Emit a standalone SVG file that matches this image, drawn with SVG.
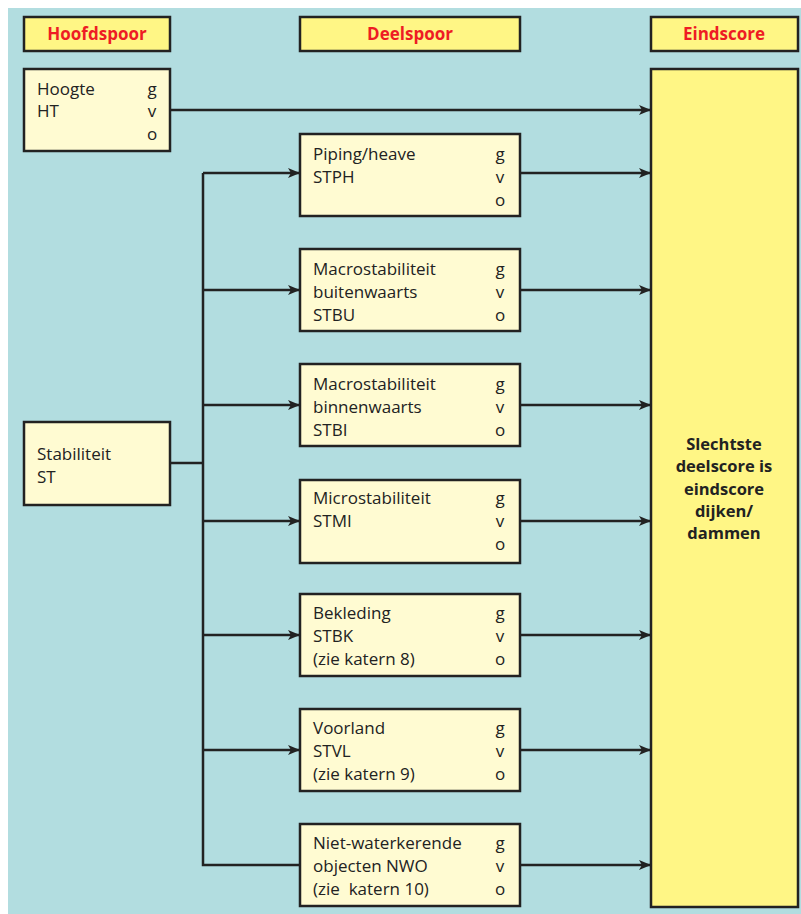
<svg xmlns="http://www.w3.org/2000/svg" width="801" height="914" viewBox="0 0 801 914">
<style>
.hdr{fill:#fff685;stroke:#222;stroke-width:2.5}
.box{fill:#fffbd2;stroke:#222;stroke-width:2.5}
.end{fill:#fff685;stroke:#222;stroke-width:2.5}
.ht{font-family:"Open Sans","Noto Sans",sans-serif;font-size:17px;font-weight:bold;fill:#ee1c24;text-anchor:middle}
.t{font-family:"Open Sans","Noto Sans",sans-serif;font-size:17px;fill:#222}
.c{text-anchor:middle}
.b{font-weight:bold;text-anchor:middle;font-size:16.5px}
.ln{stroke:#222;stroke-width:2.5;fill:none}
</style>
<defs>
<marker id="ah" markerWidth="12" markerHeight="10" refX="12" refY="5" orient="auto" markerUnits="userSpaceOnUse">
<path d="M0,0 L12,5 L0,10 L3,5 Z" fill="#222"/>
</marker>
</defs>
<rect x="8" y="8" width="793" height="906" fill="#b2dde0"/>
<g id="h1"><rect class="hdr" x="24" y="17" width="146" height="34"/><text class="ht" x="97" y="40">Hoofdspoor</text></g>
<g id="h2"><rect class="hdr" x="300" y="17" width="220" height="34"/><text class="ht" x="410" y="40">Deelspoor</text></g>
<g id="h3"><rect class="hdr" x="651" y="17" width="147" height="34"/><text class="ht" x="724" y="40">Eindscore</text></g>

<g id="hoogte"><rect class="box" x="24" y="69" width="146" height="82"/>
<text class="t" x="37" y="95">Hoogte</text><text class="t" x="37" y="117">HT</text>
<text class="t c" x="152" y="95">g</text><text class="t c" x="152" y="117">v</text><text class="t c" x="152" y="140">o</text></g>

<g id="stab"><rect class="box" x="24" y="422" width="146" height="83"/>
<text class="t" x="37" y="460">Stabiliteit</text><text class="t" x="37" y="483">ST</text></g>

<g id="eind"><rect class="end" x="651" y="69" width="147" height="838"/>
<text class="t b" x="724" y="450">Slechtste</text>
<text class="t b" x="724" y="472">deelscore is</text>
<text class="t b" x="724" y="495">eindscore</text>
<text class="t b" x="724" y="517">dijken/</text>
<text class="t b" x="724" y="539">dammen</text></g>

<g id="stph"><rect class="box" x="300" y="134" width="220" height="82"/>
<text class="t" x="313" y="160">Piping/heave</text><text class="t" x="313" y="183">STPH</text>
<text class="t c" x="500" y="160">g</text><text class="t c" x="500" y="183">v</text><text class="t c" x="500" y="206">o</text></g>

<g id="stbu"><rect class="box" x="300" y="249" width="220" height="82"/>
<text class="t" x="313" y="275">Macrostabiliteit</text><text class="t" x="313" y="298">buitenwaarts</text><text class="t" x="313" y="321">STBU</text>
<text class="t c" x="500" y="275">g</text><text class="t c" x="500" y="298">v</text><text class="t c" x="500" y="321">o</text></g>

<g id="stbi"><rect class="box" x="300" y="364" width="220" height="82"/>
<text class="t" x="313" y="390">Macrostabiliteit</text><text class="t" x="313" y="413">binnenwaarts</text><text class="t" x="313" y="436">STBI</text>
<text class="t c" x="500" y="390">g</text><text class="t c" x="500" y="413">v</text><text class="t c" x="500" y="436">o</text></g>

<g id="stmi"><rect class="box" x="300" y="480" width="220" height="83"/>
<text class="t" x="313" y="504">Microstabiliteit</text><text class="t" x="313" y="527">STMI</text>
<text class="t c" x="500" y="504">g</text><text class="t c" x="500" y="527">v</text><text class="t c" x="500" y="550">o</text></g>

<g id="stbk"><rect class="box" x="300" y="594" width="220" height="82"/>
<text class="t" x="313" y="619">Bekleding</text><text class="t" x="313" y="642">STBK</text><text class="t" x="313" y="665">(zie katern 8)</text>
<text class="t c" x="500" y="619">g</text><text class="t c" x="500" y="642">v</text><text class="t c" x="500" y="665">o</text></g>

<g id="stvl"><rect class="box" x="300" y="709" width="220" height="82"/>
<text class="t" x="313" y="734">Voorland</text><text class="t" x="313" y="757">STVL</text><text class="t" x="313" y="780">(zie katern 9)</text>
<text class="t c" x="500" y="734">g</text><text class="t c" x="500" y="757">v</text><text class="t c" x="500" y="780">o</text></g>

<g id="nwo"><rect class="box" x="300" y="824" width="220" height="82"/>
<text class="t" x="313" y="849">Niet-waterkerende</text><text class="t" x="313" y="872">objecten NWO</text><text class="t" x="313" y="895" xml:space="preserve">(zie  katern 10)</text>
<text class="t c" x="500" y="849">g</text><text class="t c" x="500" y="872">v</text><text class="t c" x="500" y="895">o</text></g>

<g id="connectors">
<line class="ln" x1="170" y1="110" x2="651" y2="110" marker-end="url(#ah)"/>
<line class="ln" x1="170" y1="463" x2="203" y2="463"/>
<path class="ln" d="M300,865 H203 V173"/>
<line class="ln" x1="203" y1="173" x2="300" y2="173" marker-end="url(#ah)"/>
<line class="ln" x1="203" y1="290" x2="300" y2="290" marker-end="url(#ah)"/>
<line class="ln" x1="203" y1="405" x2="300" y2="405" marker-end="url(#ah)"/>
<line class="ln" x1="203" y1="521" x2="300" y2="521" marker-end="url(#ah)"/>
<line class="ln" x1="203" y1="635" x2="300" y2="635" marker-end="url(#ah)"/>
<line class="ln" x1="203" y1="750" x2="300" y2="750" marker-end="url(#ah)"/>
<line class="ln" x1="520" y1="173" x2="651" y2="173" marker-end="url(#ah)"/>
<line class="ln" x1="520" y1="290" x2="651" y2="290" marker-end="url(#ah)"/>
<line class="ln" x1="520" y1="405" x2="651" y2="405" marker-end="url(#ah)"/>
<line class="ln" x1="520" y1="521" x2="651" y2="521" marker-end="url(#ah)"/>
<line class="ln" x1="520" y1="635" x2="651" y2="635" marker-end="url(#ah)"/>
<line class="ln" x1="520" y1="750" x2="651" y2="750" marker-end="url(#ah)"/>
<line class="ln" x1="520" y1="865" x2="651" y2="865" marker-end="url(#ah)"/>
</g>
</svg>
